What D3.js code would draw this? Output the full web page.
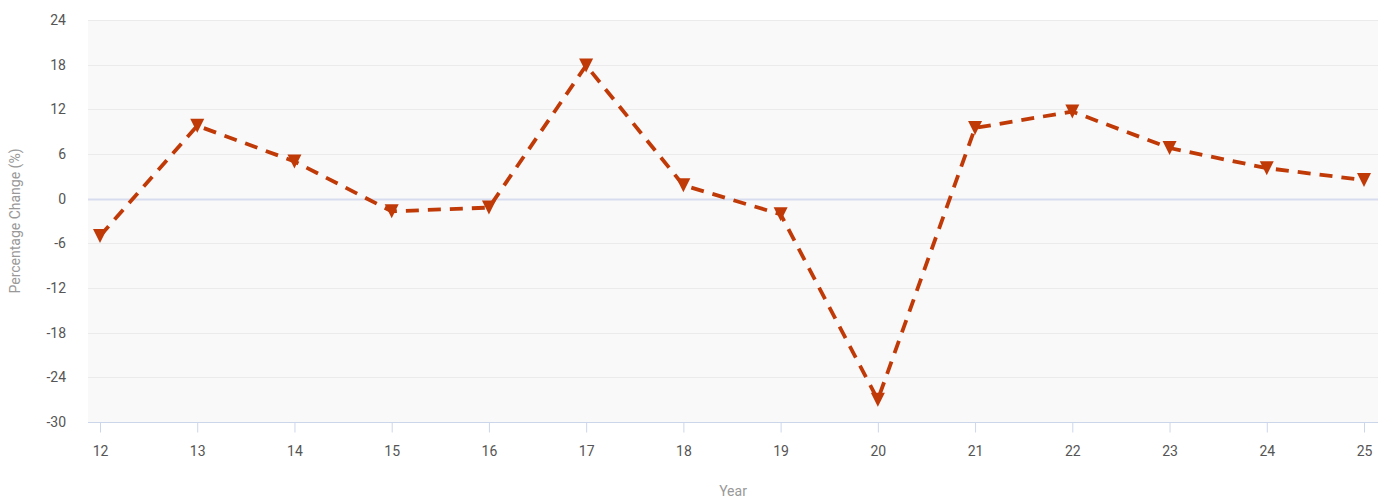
<!DOCTYPE html>
<html>
<head>
<meta charset="utf-8">
<script src="https://cdn.jsdelivr.net/npm/d3@7"></script>
<style>
  html, body { margin: 0; padding: 0; background: #ffffff; }
  svg { display: block; font-family: Roboto, "Noto Sans", sans-serif; }
</style>
</head>
<body>
<svg id="chart" width="1386" height="498"></svg>
<script>
const years = ["12", "13", "14", "15", "16", "17", "18", "19", "20", "21", "22", "23", "24", "25"];
const changes = [-5.0, 9.8, 5.0, -1.7, -1.2, 17.9, 1.8, -2.1, -27.0, 9.5, 11.7, 6.8, 4.1, 2.5];
const yTicks = [24, 18, 12, 6, 0, -6, -12, -18, -24, -30];

const svg = d3.select("#chart");
const plot = { left: 88, right: 1378, top: 20, bottom: 422 };

const x = d3.scalePoint().domain(years).range([100, 1364]);
const y = d3.scaleLinear().domain([-30, 24]).range([plot.bottom, plot.top]);

// plot background
svg.append("rect")
  .attr("x", plot.left).attr("y", plot.top)
  .attr("width", plot.right - plot.left).attr("height", plot.bottom - plot.top)
  .attr("fill", "#f9f9f9");

// gridlines
svg.append("g").selectAll("line").data(yTicks).join("line")
  .attr("x1", plot.left).attr("x2", plot.right)
  .attr("y1", d => Math.round(y(d)) + 0.5).attr("y2", d => Math.round(y(d)) + 0.5)
  .attr("stroke", d => d === 0 ? "#d8dcef" : (d === -30 ? "none" : "#ebebeb"))
  .attr("stroke-width", d => d === 0 ? 2 : 1);

// y tick labels
svg.append("g").selectAll("text").data(yTicks).join("text")
  .attr("x", 66).attr("y", d => y(d))
  .attr("dy", "0.35em")
  .attr("text-anchor", "end")
  .attr("font-size", 14)
  .attr("fill", "#555555")
  .text(d => d);

// x axis line
svg.append("line")
  .attr("x1", plot.left).attr("x2", plot.right)
  .attr("y1", plot.bottom + 0.5).attr("y2", plot.bottom + 0.5)
  .attr("stroke", "#ccd6eb").attr("stroke-width", 1);

// x axis ticks + labels
const xAxis = d3.axisBottom(x).tickSize(10).tickPadding(14);
const gx = svg.append("g").attr("transform", `translate(0,${plot.bottom + 0.5})`).call(xAxis);
gx.select(".domain").remove();
gx.selectAll(".tick line").attr("stroke", "#ccd6eb");
gx.selectAll(".tick text").attr("font-size", 14).attr("fill", "#555555")
  .attr("font-family", "Roboto, 'Noto Sans', sans-serif");

// axis titles
svg.append("text")
  .attr("x", (plot.left + plot.right) / 2).attr("y", 496)
  .attr("text-anchor", "middle").attr("font-size", 14).attr("fill", "#999999")
  .text("Year");
svg.append("text")
  .attr("transform", `translate(20,${(plot.top + plot.bottom) / 2}) rotate(-90)`)
  .attr("text-anchor", "middle").attr("font-size", 14).attr("fill", "#999999")
  .text("Percentage Change (%)");

// line
const line = d3.line().x((d, i) => x(years[i])).y(d => y(d));
svg.append("path")
  .datum(changes)
  .attr("d", line)
  .attr("fill", "none")
  .attr("stroke", "#c03a08")
  .attr("stroke-width", 3.8)
  .attr("stroke-dasharray", "13,9");

// markers (triangle-down)
const r = 7;
svg.append("g").selectAll("path").data(changes).join("path")
  .attr("d", (d, i) => {
    const cx = x(years[i]), cy = y(d);
    return `M${cx - r},${cy - r}L${cx + r},${cy - r}L${cx},${cy + r}Z`;
  })
  .attr("fill", "#c03a08");
</script>
</body>
</html>
